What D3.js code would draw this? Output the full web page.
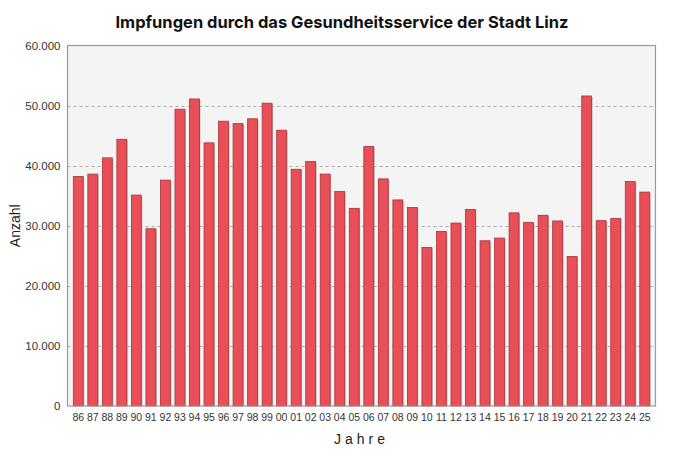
<!DOCTYPE html>
<html>
<head>
<meta charset="utf-8">
<script src="https://cdn.jsdelivr.net/npm/d3@7"></script>
<style>
    body { margin: 0; background: #fff; }
    text { font-family: "Liberation Sans", Arial, sans-serif; }
</style>
</head>
<body>
<div class="chart"></div>
<script>
// year labels on the x axis
const years = ['86', '87', '88', '89', '90', '91', '92', '93', '94', '95',
    '96', '97', '98', '99', '00', '01', '02', '03', '04', '05',
    '06', '07', '08', '09', '10', '11', '12', '13', '14', '15',
    '16', '17', '18', '19', '20', '21', '22', '23', '24', '25']
// vaccinations per year
const impfungen = [38200, 38600, 41300, 44400, 35100, 29500, 37600, 49400, 51100, 43800,
    47400, 47000, 47800, 50400, 45900, 39400, 40700, 38600, 35700, 32900,
    43200, 37800, 34300, 33050, 26400, 29050, 30450, 32700, 27500, 27950,
    32150, 30550, 31750, 30800, 24900, 51600, 30850, 31200, 37350, 35600]
const yTicks = [0, 10000, 20000, 30000, 40000, 50000, 60000]

const width = 682
const height = 462
const plotLeft = 67.5, plotRight = 655.5, plotTop = 45.5, plotBottom = 406

const svg = d3.select('.chart')
    .append('svg')
    .attr('width', width)
    .attr('height', height)

const xScale = d3.scaleBand()
    .domain(years)
    .range([plotLeft, plotRight])
    .paddingInner(0.32)
    .paddingOuter(0.4)

const yScale = d3.scaleLinear().domain([0, 60000]).range([plotBottom, plotTop])

// plot background
svg.append('rect')
    .attr('x', plotLeft).attr('y', plotTop)
    .attr('width', plotRight - plotLeft).attr('height', plotBottom - plotTop)
    .attr('fill', '#f4f4f4')

// dashed grid lines
svg.append('g')
    .selectAll('line')
    .data(yTicks.filter(d => d > 0 && d < 60000))
    .enter()
    .append('line')
    .attr('x1', plotLeft).attr('x2', plotRight)
    .attr('y1', d => Math.round(yScale(d)) + 0.5)
    .attr('y2', d => Math.round(yScale(d)) + 0.5)
    .attr('stroke', '#aaaaaa')
    .attr('stroke-dasharray', '3,3')

const fmt = d => d === 0 ? '0' : d3.format(',')(d).replace(/,/g, '.')

// y axis
const yAxis = d3.axisLeft(yScale).tickValues(yTicks).tickFormat(fmt).tickSize(0).tickPadding(7)
svg.append('g')
    .attr('transform', `translate(${plotLeft}, 0)`)
    .call(yAxis)
    .call(g => g.select('.domain').remove())
    .selectAll('text')
    .style('font-size', '11.5px')
    .attr('fill', '#333')

// bar shadows
svg.append('g')
    .selectAll('rect')
    .data(impfungen)
    .enter()
    .append('rect')
    .attr('x', (d, i) => xScale(years[i]) + 1)
    .attr('y', d => yScale(d) + 1)
    .attr('width', xScale.bandwidth())
    .attr('height', d => plotBottom - yScale(d) - 1)
    .attr('fill', '#b8b8b8')

// bars
svg.append('g')
    .selectAll('rect')
    .data(impfungen)
    .enter()
    .append('rect')
    .attr('x', (d, i) => xScale(years[i]))
    .attr('y', d => yScale(d))
    .attr('width', xScale.bandwidth())
    .attr('height', d => plotBottom - yScale(d))
    .attr('fill', '#e84f56')
    .attr('stroke', '#a8333a')
    .attr('stroke-width', 0.8)

// frame
svg.append('rect')
    .attr('x', plotLeft).attr('y', plotTop)
    .attr('width', plotRight - plotLeft).attr('height', plotBottom - plotTop)
    .attr('fill', 'none')
    .attr('stroke', '#9a9a9a')
    .attr('stroke-width', 1.2)

// x axis
const xAxis = d3.axisBottom(xScale).tickSize(0).tickPadding(8)
svg.append('g')
    .attr('transform', `translate(0, ${plotBottom})`)
    .call(xAxis)
    .call(g => g.select('.domain').remove())
    .selectAll('text')
    .style('font-size', '10.5px')
    .attr('fill', '#333')

svg.append('text')
    .attr('x', (plotLeft + plotRight) / 2)
    .attr('y', 444)
    .attr('text-anchor', 'middle')
    .style('font-size', '14px')
    .style('letter-spacing', '4px')
    .attr('fill', '#222')
    .text('Jahre')

svg.append('text')
    .attr('transform', `translate(20, ${(plotTop + plotBottom) / 2}) rotate(-90)`)
    .attr('text-anchor', 'middle')
    .style('font-size', '14px')
    .attr('fill', '#222')
    .text('Anzahl')

svg.append('text')
    .attr('x', 342)
    .attr('y', 28)
    .attr('text-anchor', 'middle')
    .style('font-family', 'Inter, sans-serif')
    .style('font-size', '16.5px')
    .style('font-weight', 'bold')
    .attr('fill', '#111')
    .text('Impfungen durch das Gesundheitsservice der Stadt Linz')
</script>
</body>
</html>
